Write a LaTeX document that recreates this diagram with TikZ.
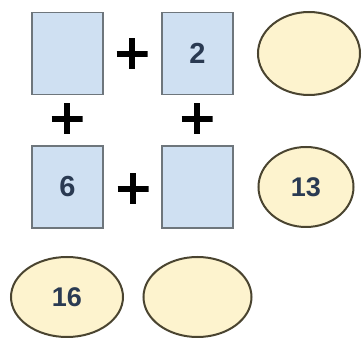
\documentclass[tikz,border=0pt]{standalone}
\usepackage{fontspec}
\setmainfont{Liberation Sans}
\usetikzlibrary{shapes.geometric}
\definecolor{boxfill}{HTML}{CFE0F2}
\definecolor{boxline}{HTML}{6E767C}
\definecolor{ovfill}{HTML}{FDF3CE}
\definecolor{ovline}{HTML}{4A4430}
\definecolor{txt}{HTML}{2A3A52}
\begin{document}
\begin{tikzpicture}[x=1pt,y=-1pt,
  sq/.style={draw=boxline,line width=1.8pt,fill=boxfill,minimum width=71pt,minimum height=82pt,inner sep=0pt,
    font=\fontsize{29}{29}\selectfont\bfseries,text=txt},
  ov/.style={ellipse,draw=ovline,line width=2pt,fill=ovfill,inner sep=0pt,
    font=\fontsize{27}{27}\selectfont\bfseries,text=txt},
  pl/.style={minimum size=31pt,inner sep=0pt,
    path picture={\draw[line width=6.5pt,black] (path picture bounding box.west)--(path picture bounding box.east)
      (path picture bounding box.north)--(path picture bounding box.south);}}]
\useasboundingbox (0,0) rectangle (362,339);
\node[sq] (b1) at (67.5,53.5) {};
\node[sq] (b2) at (197.5,53.5) {2};
\node[sq] (b3) at (67.5,187) {6};
\node[sq] (b4) at (197.5,187) {};
\node[ov,minimum width=102pt,minimum height=83pt] (e1) at (309,53.5) {};
\node[ov,minimum width=95pt,minimum height=80pt] (e2) at (306,187) {13};
\node[ov,minimum width=112pt,minimum height=80pt] (e3) at (67,297) {16};
\node[ov,minimum width=108pt,minimum height=80pt] (e4) at (197.5,297) {};
\node[pl] (p1) at (132,54) {};
\node[pl] (p2) at (133,189) {};
\node[pl] (p3) at (67,119) {};
\node[pl] (p4) at (197,119) {};
\end{tikzpicture}
\end{document}
